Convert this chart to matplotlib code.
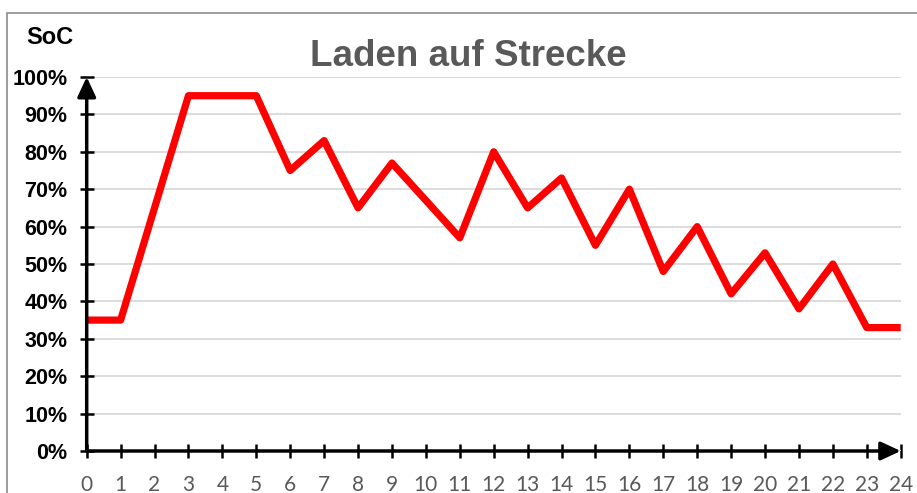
import matplotlib
matplotlib.use("Agg")
import matplotlib.pyplot as plt
from matplotlib.patches import Rectangle

hours = list(range(25))
soc = [35, 35, 65, 95, 95, 95, 75, 83, 65, 77, 67, 57, 80, 65, 73, 55, 70, 48, 60, 42, 53, 38, 50, 33, 33]
y_ticks = [0, 10, 20, 30, 40, 50, 60, 70, 80, 90, 100]
y_labels = [f"{v}%" for v in y_ticks]
title = "Laden auf Strecke"
y_title = "SoC"

W, H = 917, 493
fig = plt.figure(figsize=(W / 100, H / 100), dpi=100)
fig.patch.set_facecolor("white")

# outer chart border (cut by the image edges)
fig.patches.append(Rectangle((7.3 / W, -0.1), 1.2, 1 - 13.3 / H + 0.1,
                             transform=fig.transFigure, fill=False,
                             edgecolor="#8c8c8c", linewidth=1.2, zorder=0))

ax = fig.add_axes([86.7 / W, (H - 451) / H, (900.7 - 86.7) / W, (451 - 77) / H])
ax.set_xlim(0, 24)
ax.set_ylim(0, 100)
for s in ax.spines.values():
    s.set_visible(False)

ax.set_yticks(y_ticks)
ax.set_yticklabels(y_labels)
ax.set_xticks(hours)
ax.set_xticklabels([str(h) for h in hours])
ax.tick_params(axis="both", direction="inout", length=10, width=1.8, color="black")
ax.tick_params(axis="y", pad=9)
ax.tick_params(axis="x", pad=12)
for lbl in ax.get_yticklabels():
    lbl.set_fontfamily("Liberation Sans")
    lbl.set_fontweight("bold")
    lbl.set_fontsize(15.5)
    lbl.set_color("black")
for lbl in ax.get_xticklabels():
    lbl.set_fontfamily("Lato")
    lbl.set_fontsize(15)
    lbl.set_color("#595959")

ax.yaxis.grid(True, color="#d9d9d9", linewidth=1.3)
ax.set_axisbelow(True)

# axes with arrows
arrow = dict(arrowstyle="-|>,head_length=0.6,head_width=0.28",
             mutation_scale=20, color="black", lw=2.5, shrinkA=0, shrinkB=0)
ax.annotate("", xy=(0, 100), xytext=(0, 0), arrowprops=arrow,
            annotation_clip=False, zorder=5)
ax.annotate("", xy=(24, 0), xytext=(0, 0), arrowprops=arrow,
            annotation_clip=False, zorder=5)

ax.plot(hours, soc, color="#ff0000", linewidth=5.2, solid_joinstyle="round",
        solid_capstyle="butt", clip_on=False, zorder=4)

fig.text(468 / W, 1 - 56 / H, title, ha="center", va="center",
         fontfamily="Liberation Sans", fontweight="bold", fontsize=26.5, color="#595959")
fig.text(50 / W, 1 - 37 / H, y_title, ha="center", va="center",
         fontfamily="Liberation Sans", fontweight="bold", fontsize=17, color="black")

fig.savefig("out.png", dpi=100, facecolor="white")
